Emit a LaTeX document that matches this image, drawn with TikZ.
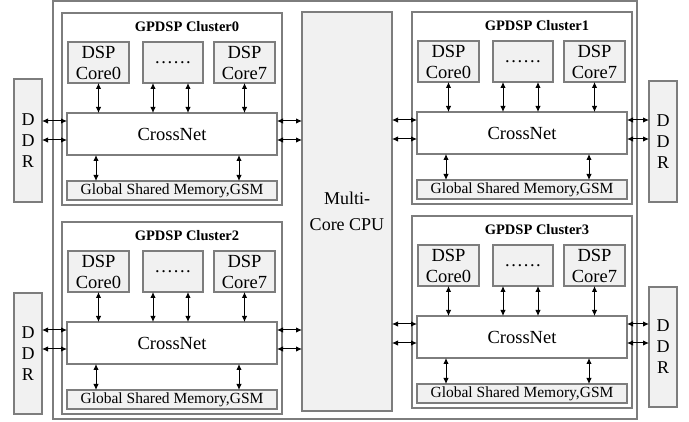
\documentclass[tikz,border=0pt]{standalone}
\usepackage{fontspec}
\setmainfont{Liberation Serif}
\usetikzlibrary{arrows.meta,calc}
\definecolor{edge}{RGB}{125,125,125}
\definecolor{boxfill}{RGB}{241,241,241}
% \bx{style}{x1}{y1}{x2}{y2}{name}{text}
\newcommand\bx[7]{\node[#1, minimum width={(#4)-(#2)}, minimum height={(#5)-(#3)}] (#6) at ({((#2)+(#4))/2},{((#3)+(#5))/2}) {#7};}
\newcommand\gpcluster[3]{%
  \bx{frame, fill=white}{#1}{#2}{#1+220}{#2+192}{cl#3}{}
  \node[titlefont] (t#3) at (#1+125,#2+14) {GPDSP Cluster#3};
  \bx{graybox, big, align=center}{#1+6}{#2+29}{#1+67}{#2+70}{ca#3}{DSP\\Core0}
  \bx{graybox, big}{#1+81}{#2+29}{#1+141}{#2+70}{cd#3}{.\kern1.6pt.\kern1.6pt.\kern1.6pt.\kern1.6pt.\kern1.6pt.}
  \bx{graybox, big, align=center}{#1+152}{#2+29}{#1+213}{#2+70}{cz#3}{DSP\\Core7}
  \bx{frame, fill=white, big}{#1+5}{#2+100}{#1+215}{#2+142}{x#3}{CrossNet}
  \bx{graybox, gsmfont}{#1+5}{#2+168}{#1+215}{#2+187}{g#3}{Global Shared Memory,GSM}
  \coordinate (da#3) at ($(cd#3.south)+(-20,0)$);
  \coordinate (db#3) at ($(cd#3.south)+(15,0)$);
  \coordinate (ga#3) at (#1+34,#2+150);
  \coordinate (gb#3) at (#1+177,#2+150);
  \coordinate (ya#3) at (#1,#2+108);
  \coordinate (yb#3) at (#1,#2+127);
  \draw[arr] (ca#3.south) -- (x#3.north -| ca#3.south);
  \draw[arr] (da#3) -- (x#3.north -| da#3);
  \draw[arr] (db#3) -- (x#3.north -| db#3);
  \draw[arr] (cz#3.south) -- (x#3.north -| cz#3.south);
  \draw[arr] (x#3.south -| ga#3) -- (g#3.north -| ga#3);
  \draw[arr] (x#3.south -| gb#3) -- (g#3.north -| gb#3);
}
\begin{document}
\begin{tikzpicture}[x=1pt,y=-1pt,
  frame/.style={draw=edge, line width=1.1pt, inner sep=0pt, outer sep=0pt},
  graybox/.style={frame, fill=boxfill},
  arr/.style={{Latex[length=6pt,width=5.5pt]}-{Latex[length=6pt,width=5.5pt]}, line width=1pt, black},
  big/.style={font=\fontsize{18.5}{21}\selectfont},
  gsmfont/.style={font=\fontsize{15.5}{18}\selectfont},
  ddrfont/.style={font=\fontsize{18}{21}\selectfont, align=center},
  titlefont/.style={font=\fontsize{14.5}{17}\selectfont\bfseries, inner sep=0pt}]
\useasboundingbox (0,0) rectangle (689,422);
\bx{frame}{53}{1}{637}{419}{outer}{}
\bx{graybox, align=center, font=\fontsize{18}{26}\selectfont}{302}{12}{392}{411}{cpu}{Multi-\\Core CPU}
\bx{graybox, ddrfont}{14}{79}{42}{202}{ddr0}{D\\D\\R}
\bx{graybox, ddrfont}{14}{293}{42}{414}{ddr2}{D\\D\\R}
\bx{graybox, ddrfont}{649}{81}{677}{202}{ddr1}{D\\D\\R}
\bx{graybox, ddrfont}{649}{287}{677}{407}{ddr3}{D\\D\\R}
\gpcluster{62}{13}{0}
\gpcluster{412}{12}{1}
\gpcluster{62}{222}{2}
\gpcluster{412}{216}{3}
% cluster 0 and 2: DDR on left, CPU on right
\foreach \i in {0,2}{
  \draw[arr] (ddr\i.east |- ya\i) -- (x\i.west |- ya\i);
  \draw[arr] (ddr\i.east |- yb\i) -- (x\i.west |- yb\i);
  \draw[arr] (x\i.east |- ya\i) -- (cpu.west |- ya\i);
  \draw[arr] (x\i.east |- yb\i) -- (cpu.west |- yb\i);
}
\foreach \i in {1,3}{
  \draw[arr] (cpu.east |- ya\i) -- (x\i.west |- ya\i);
  \draw[arr] (cpu.east |- yb\i) -- (x\i.west |- yb\i);
  \draw[arr] (x\i.east |- ya\i) -- (ddr\i.west |- ya\i);
  \draw[arr] (x\i.east |- yb\i) -- (ddr\i.west |- yb\i);
}
\end{tikzpicture}
\end{document}
